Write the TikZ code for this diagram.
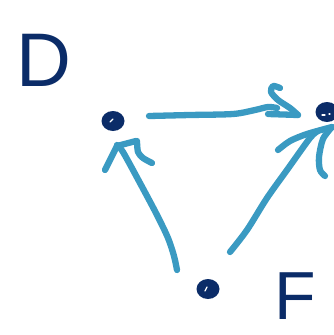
\documentclass[tikz,border=0pt]{standalone}
\usepackage{fontspec}
\setmainfont{Liberation Sans}
\usetikzlibrary{shapes.geometric}
\definecolor{navy}{RGB}{11,44,104}
\definecolor{sky}{RGB}{58,154,194}
\begin{document}
\begin{tikzpicture}[x=1pt,y=-1pt,
  ink/.style={line width=6.3pt, line cap=round, line join=round},
  blueink/.style={ink, draw=sky},
  blob/.style={ellipse, fill=navy, inner sep=0pt, minimum width=23pt, minimum height=20pt},
  shine/.style={draw=white, line width=1.3pt, line cap=round},
  letter/.style={text=navy, inner sep=0pt}]
\useasboundingbox (0,0) rectangle (334,335);

% labels
\node[letter, font=\fontsize{76}{76}\selectfont] (labD) at (44,60) {D};
\node[letter, font=\fontsize{68}{68}\selectfont] (labF) at (295,296) {F};

% points
\node[blob] (d) at (113,121) {};
\node[blob] (e) at (327,112) {};
\node[blob] (f) at (208,289) {};
\draw[shine] (110,122) -- (113,119);
\draw[shine] (205,291) -- (207,287);
\draw[shine] (322,115) -- (325,115) (329,114) -- (330,114);

% D -> E
\draw[blueink] plot[smooth] coordinates {(149,116) (190,115) (233,114) (255,110) (268,107) (277,108)};
\draw[blueink] plot[smooth] coordinates {(280,88) (273,86) (271,92) (278,100) (290,108) (298,115)};
\draw[blueink] (298,115) -- (268,114);

% F -> D
\draw[blueink] plot[smooth] coordinates {(177,270) (174,256) (168,238) (157,215) (140,183) (123,152) (117,145)};
\draw[blueink] (105,170) -- (117,146) -- (136,141);
\draw[blueink] plot[smooth] coordinates {(137,141) (138,152) (143,158) (152,163)};

% F -> E
\draw[blueink] plot[smooth] coordinates {(230,252) (247,230) (267,198) (287,170) (310,138) (318,131)};
\draw[blueink] plot[smooth] coordinates {(278,150) (290,141) (307,134) (332,127)};
\draw[blueink] plot[smooth] coordinates {(332,127) (323,139) (319,157) (320,170) (325,176)};
\end{tikzpicture}
\end{document}
